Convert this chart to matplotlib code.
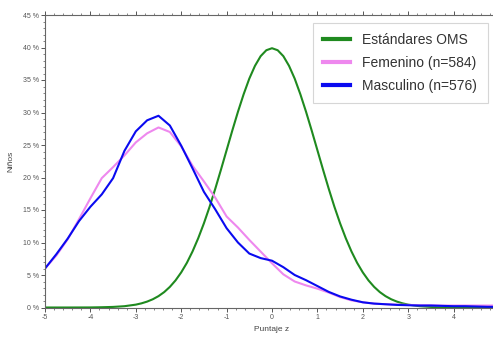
import matplotlib
matplotlib.use("Agg")
import matplotlib.pyplot as plt
from matplotlib.ticker import MultipleLocator, FormatStrFormatter

# z-score grid (step 0.25) and sample curves in percent
z = [-5.0, -4.75, -4.5, -4.25, -4.0, -3.75, -3.5, -3.25, -3.0, -2.75,
     -2.5, -2.25, -2.0, -1.75, -1.5, -1.25, -1.0, -0.75, -0.5, -0.25,
     0.0, 0.25, 0.5, 0.75, 1.0, 1.25, 1.5, 1.75, 2.0, 2.25,
     2.5, 2.75, 3.0, 3.25, 3.5, 3.75, 4.0, 4.25, 4.5, 4.75, 5.0]

femenino = [6.0, 8.0, 10.5, 13.6, 16.8, 19.9, 21.6, 23.4, 25.4, 26.8,
            27.7, 27.0, 24.8, 21.8, 19.4, 16.9, 14.0, 12.3, 10.4, 8.6,
            6.8, 5.1, 4.0, 3.4, 2.9, 2.3, 1.6, 1.1, 0.8, 0.6,
            0.5, 0.45, 0.4, 0.35, 0.35, 0.3, 0.3, 0.3, 0.3, 0.3, 0.3]

masculino = [6.0, 8.2, 10.6, 13.3, 15.5, 17.4, 19.9, 24.1, 27.1, 28.8,
             29.5, 28.0, 24.9, 21.4, 17.8, 15.1, 12.2, 10.0, 8.3, 7.6,
             7.2, 6.2, 5.0, 4.2, 3.3, 2.4, 1.7, 1.2, 0.8, 0.6,
             0.5, 0.4, 0.35, 0.3, 0.3, 0.25, 0.2, 0.2, 0.15, 0.1, 0.1]

# WHO standard curve, finer grid (step 0.125 in the middle)
z_oms = [-5.0, -4.5, -4.0, -3.75, -3.5, -3.25, -3.0, -2.875, -2.75, -2.625,
         -2.5, -2.375, -2.25, -2.125, -2.0, -1.875, -1.75, -1.625, -1.5, -1.375,
         -1.25, -1.125, -1.0, -0.875, -0.75, -0.625, -0.5, -0.375, -0.25, -0.125,
         0.0, 0.125, 0.25, 0.375, 0.5, 0.625, 0.75, 0.875, 1.0, 1.125,
         1.25, 1.375, 1.5, 1.625, 1.75, 1.875, 2.0, 2.125, 2.25, 2.375,
         2.5, 2.625, 2.75, 2.875, 3.0, 3.25, 3.5, 3.75, 4.0, 4.5, 5.0]
oms = [0.0, 0.0, 0.01, 0.04, 0.09, 0.20, 0.44, 0.64, 0.91, 1.27,
       1.75, 2.37, 3.17, 4.17, 5.40, 6.87, 8.63, 10.66, 12.95, 15.49,
       18.26, 21.19, 24.20, 27.21, 30.11, 32.80, 35.21, 37.18, 38.67, 39.58,
       39.89, 39.58, 38.67, 37.18, 35.21, 32.80, 30.11, 27.21, 24.20, 21.19,
       18.26, 15.49, 12.95, 10.66, 8.63, 6.87, 5.40, 4.17, 3.17, 2.37,
       1.75, 1.27, 0.91, 0.64, 0.44, 0.20, 0.09, 0.04, 0.01, 0.0, 0.0]

x_ticks = [-5, -4, -3, -2, -1, 0, 1, 2, 3, 4, 5]
x_ticklabels = ["-5", "-4", "-3", "-2", "-1", "0", "1", "2", "3", "4", ""]

labels = ["Estándares OMS", "Femenino (n=584)", "Masculino (n=576)"]
colors = ["#1f8a1f", "#ee88ee", "#0a0af0"]

plt.rcParams['font.family'] = ['Liberation Sans', 'DejaVu Sans']
plt.rcParams['axes.unicode_minus'] = False

fig = plt.figure(figsize=(4.93, 3.43), dpi=100)
ax = fig.add_axes([45 / 493, 35.5 / 343, 454 / 493, 292.5 / 343])

series = [(z_oms, oms), (z, femenino), (z, masculino)]
for (xs, ys), lab, col in zip(series, labels, colors):
    ax.plot(xs, ys, color=col, lw=1.5, label=lab, solid_joinstyle='round')

ax.set_xlim(-5, 5)
ax.set_ylim(0, 45)
ax.set_xticks(x_ticks)
ax.set_xticklabels(x_ticklabels)
ax.xaxis.set_minor_locator(MultipleLocator(0.2))
ax.yaxis.set_major_locator(MultipleLocator(5))
ax.yaxis.set_minor_locator(MultipleLocator(1))
ax.yaxis.set_major_formatter(FormatStrFormatter('%d %%'))

for s in ax.spines.values():
    s.set_color('#666666')
    s.set_linewidth(0.8)
ax.tick_params(which='both', colors='#555555', labelsize=5, top=True,
               direction='out', pad=1.5)
ax.tick_params(which='major', length=3, width=0.7)
ax.tick_params(which='minor', length=1.5, width=0.5)

ax.set_xlabel("Puntaje z", fontsize=6, color='#444444', labelpad=4)
ax.set_ylabel("Niños", fontsize=6, color='#444444', labelpad=6)

leg = ax.legend(loc='upper left', bbox_to_anchor=(313 / 493, 1 - 23 / 343),
                bbox_transform=fig.transFigure, fontsize=10,
                handlelength=1.9, handleheight=0.8, handletextpad=0.9,
                labelspacing=0.62, borderpad=0.75, borderaxespad=0,
                fancybox=False, frameon=True)
leg.get_frame().set_edgecolor('#cccccc')
leg.get_frame().set_linewidth(0.8)
for h in leg.get_lines():
    h.set_linewidth(3)
for t in leg.get_texts():
    t.set_color('#333333')

fig.savefig("out.png", dpi=100)
